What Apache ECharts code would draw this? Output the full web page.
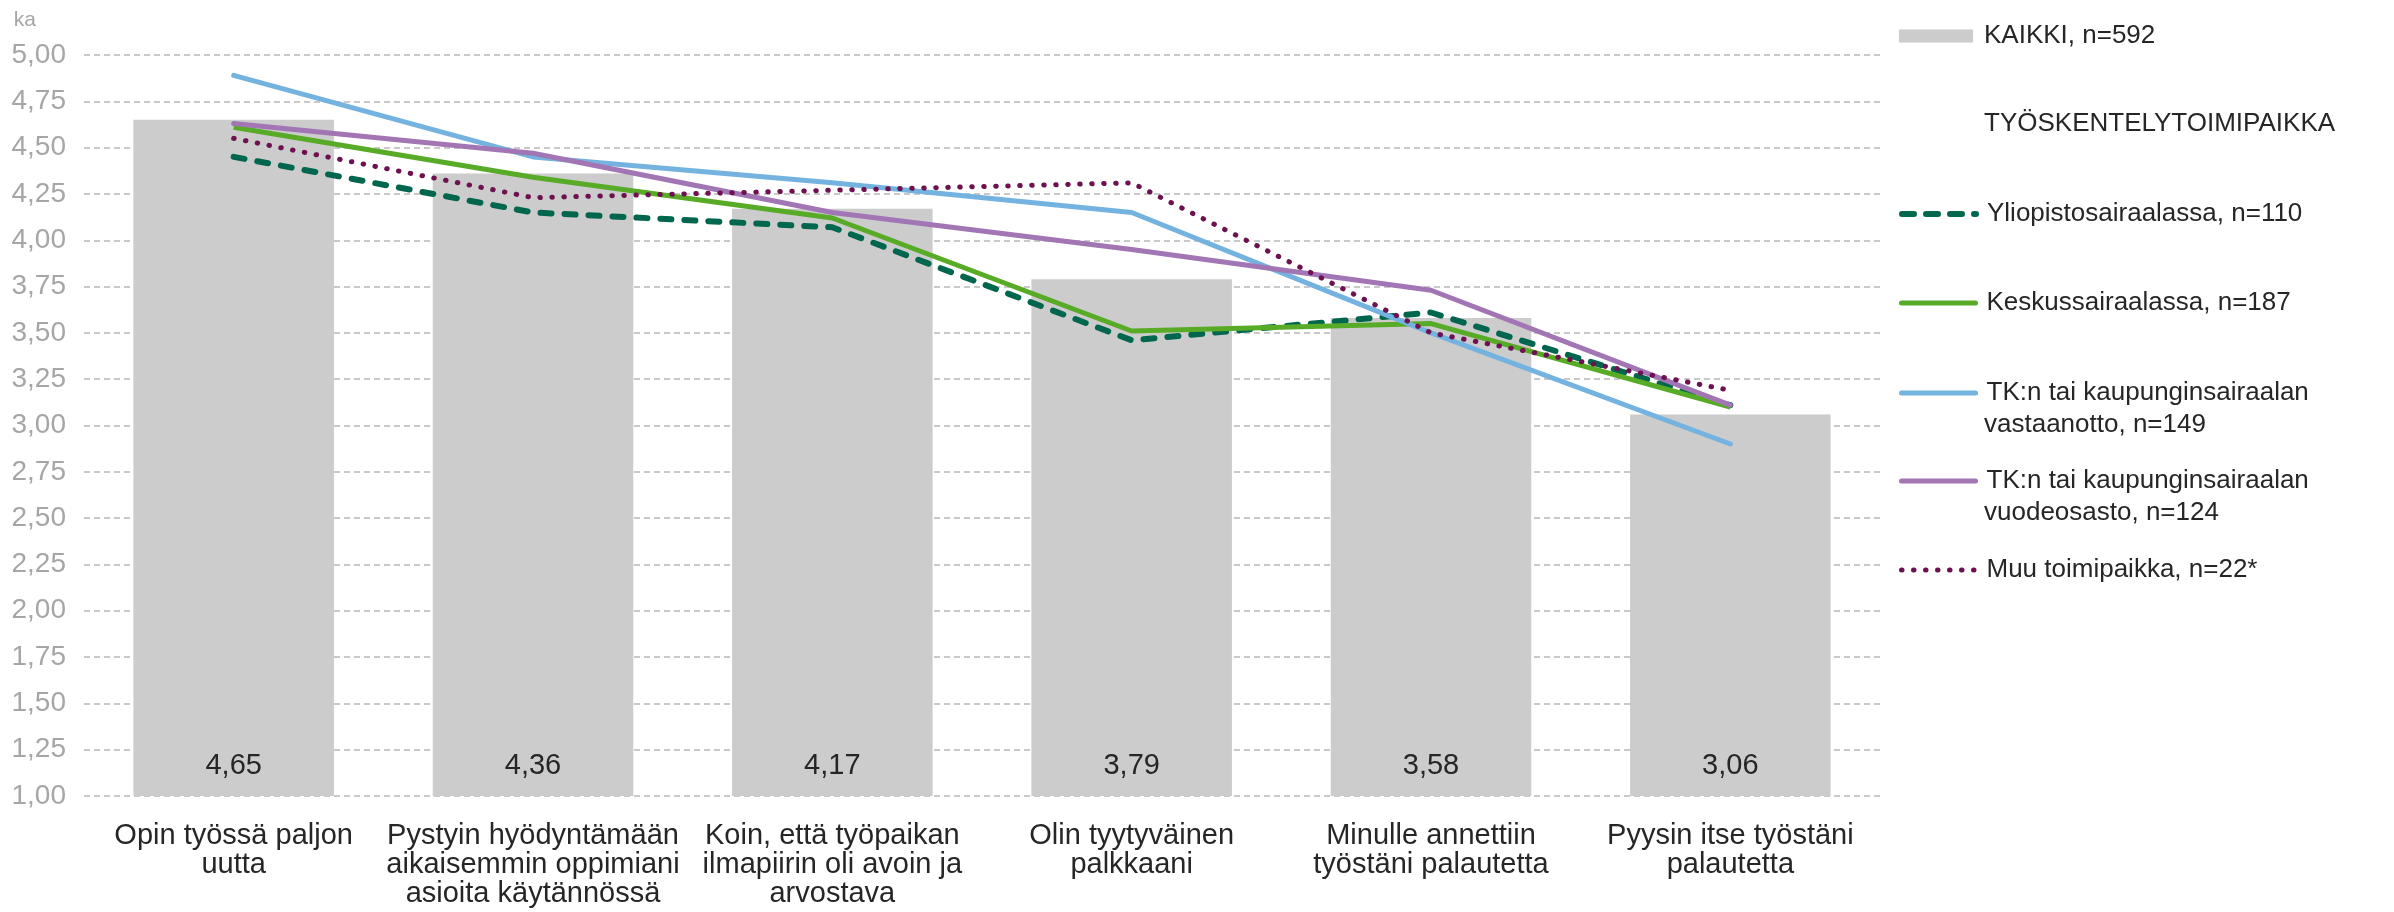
<!DOCTYPE html>
<html>
<head>
<meta charset="utf-8">
<script src="https://cdn.jsdelivr.net/npm/echarts@6/dist/echarts.min.js"></script>
<style>
html,body{margin:0;padding:0;background:#fff;}
#chart{width:2394px;height:912px;}
</style>
</head>
<body>
<div id="chart"></div>
<script>
const categories = [
  'Opin työssä paljon\nuutta',
  'Pystyin hyödyntämään\naikaisemmin oppimiani\nasioita käytännössä',
  'Koin, että työpaikan\nilmapiirin oli avoin ja\narvostava',
  'Olin tyytyväinen\npalkkaani',
  'Minulle annettiin\ntyöstäni palautetta',
  'Pyysin itse työstäni\npalautetta'
];
const kaikki = [4.65, 4.36, 4.17, 3.79, 3.58, 3.06];
const yliopisto = [4.45, 4.15, 4.07, 3.46, 3.61, 3.11];
const keskus = [4.61, 4.34, 4.12, 3.51, 3.55, 3.10];
const tkVastaanotto = [4.89, 4.45, 4.31, 4.15, 3.50, 2.90];
const tkVuodeosasto = [4.63, 4.47, 4.15, 3.95, 3.73, 3.11];
const muu = [4.55, 4.23, 4.27, 4.31, 3.50, 3.19];

const names = {
  kaikki: 'KAIKKI, n=592',
  yliopisto: 'Yliopistosairaalassa, n=110',
  keskus: 'Keskussairaalassa, n=187',
  tkV: 'TK:n tai kaupunginsairaalan vastaanotto, n=149',
  tkVu: 'TK:n tai kaupunginsairaalan vuodeosasto, n=124',
  muu: 'Muu toimipaikka, n=22*'
};

const FONT = '"Liberation Sans", Arial, sans-serif';
const fmt = v => v.toFixed(2).replace('.', ',');

const chart = echarts.init(document.getElementById('chart'));

function legendAt(name, centerY, lineStyle, firstLine, isBar) {
  const o = {
    data: [name],
    left: 1899,
    top: centerY - 15,
    orient: 'vertical',
    itemWidth: 74,
    itemHeight: isBar ? 13 : 12,
    selectedMode: false,
    padding: 0,
    textStyle: { fontFamily: FONT, fontSize: 26, color: '#262626', lineHeight: 30, padding: [0, 0, 0, 6] },
    formatter: () => firstLine || name
  };
  if (!isBar) {
    o.itemStyle = { opacity: 0 };
    o.lineStyle = lineStyle;
  } else {
    o.icon = 'rect';
  }
  return o;
}

const option = {
  animation: false,
  backgroundColor: '#fff',
  textStyle: { fontFamily: FONT },
  grid: { left: 84, right: 514, top: 55, bottom: 116, containLabel: false },
  xAxis: {
    type: 'category',
    data: categories,
    axisLine: { show: false },
    axisTick: { show: false },
    axisLabel: { fontFamily: FONT, fontSize: 29, lineHeight: 29, color: '#262626', margin: 25, interval: 0 }
  },
  yAxis: {
    type: 'value',
    min: 1, max: 5, interval: 0.25,
    name: 'ka',
    nameLocation: 'end',
    nameGap: 24,
    nameTextStyle: { fontFamily: FONT, fontSize: 21, color: '#a6a6a6', align: 'right', padding: [0, 48, 0, 0] },
    axisLine: { show: false },
    axisTick: { show: false },
    axisLabel: { fontFamily: FONT, fontSize: 28, color: '#a6a6a6', margin: 18, formatter: fmt },
    splitLine: { show: true, lineStyle: { color: '#b8b8b8', width: 1.5, type: [6, 4] } }
  },
  legend: [
    legendAt(names.kaikki, 36, null, null, true),
    legendAt(names.yliopisto, 214, { width: 6, type: [12, 12], cap: 'round' }),
    legendAt(names.keskus, 303, { width: 5, cap: 'round' }),
    legendAt(names.tkV, 393, { width: 5, cap: 'round' }, 'TK:n tai kaupunginsairaalan'),
    legendAt(names.tkVu, 481, { width: 5, cap: 'round' }, 'TK:n tai kaupunginsairaalan'),
    legendAt(names.muu, 570, { width: 5, type: [0.5, 11.5], cap: 'round' })
  ],
  graphic: [
    { type: 'text', left: 1984, top: 124 - 15, style: { text: 'TYÖSKENTELYTOIMIPAIKKA', font: '26px ' + FONT, fill: '#262626', lineHeight: 30 } },
    { type: 'text', left: 1984, top: 425 - 15, style: { text: 'vastaanotto, n=149', font: '26px ' + FONT, fill: '#262626', lineHeight: 30 } },
    { type: 'text', left: 1984, top: 513 - 15, style: { text: 'vuodeosasto, n=124', font: '26px ' + FONT, fill: '#262626', lineHeight: 30 } }
  ],
  series: [
    {
      name: names.kaikki, type: 'bar', data: kaikki, barCategoryGap: '33%',
      itemStyle: { color: '#cccccc' },
      label: { show: true, position: 'insideBottom', distance: 16, fontFamily: FONT, fontSize: 29, color: '#262626', formatter: p => fmt(p.value) }
    },
    {
      name: names.yliopisto, type: 'line', data: yliopisto, symbol: 'none', z: 3,
      lineStyle: { color: '#00664d', width: 6, type: [11, 13], cap: 'round' }, itemStyle: { color: '#00664d' }
    },
    {
      name: names.keskus, type: 'line', data: keskus, symbol: 'none', z: 4,
      lineStyle: { color: '#58ab27', width: 5 }, itemStyle: { color: '#58ab27' }
    },
    {
      name: names.tkV, type: 'line', data: tkVastaanotto, symbol: 'none', z: 5,
      lineStyle: { color: '#74b3e0', width: 5, cap: 'round' }, itemStyle: { color: '#74b3e0' }
    },
    {
      name: names.tkVu, type: 'line', data: tkVuodeosasto, symbol: 'none', z: 6,
      lineStyle: { color: '#a276b5', width: 5, cap: 'round' }, itemStyle: { color: '#a276b5' }
    },
    {
      name: names.muu, type: 'line', data: muu, symbol: 'none', z: 7,
      lineStyle: { color: '#6e1150', width: 5, type: [0.5, 11.5], cap: 'round' }, itemStyle: { color: '#6e1150' }
    }
  ]
};
chart.setOption(option);
</script>
</body>
</html>
